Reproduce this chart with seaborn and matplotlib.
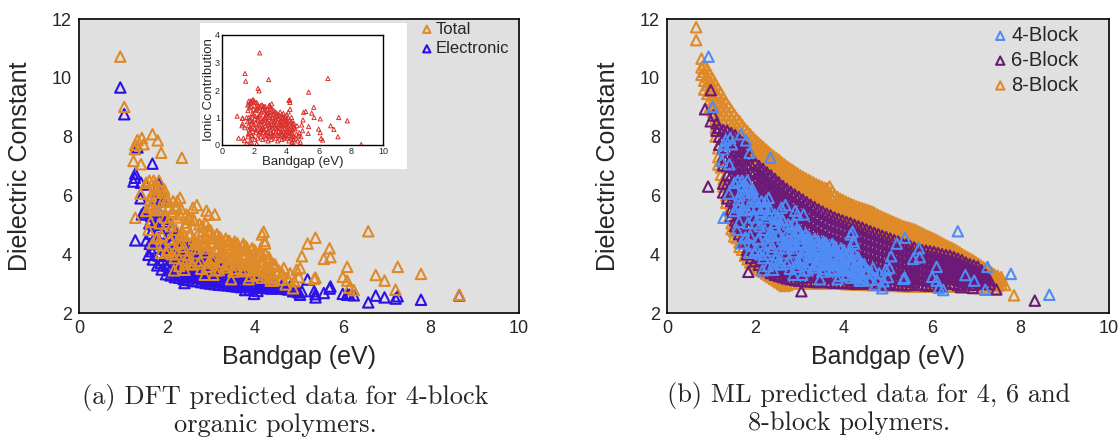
import matplotlib
matplotlib.use("Agg")
import matplotlib.pyplot as plt
import pandas as pd
import seaborn as sns

# ---------------------------------------------------------------------------
# (a) DFT data for 4-block polymers: bandgap, electronic and ionic parts of
#     the dielectric constant (total = electronic + ionic)
# ---------------------------------------------------------------------------
gap_dft = [
    0.94, 1.03, 1.28, 1.33, 1.43, 1.47, 1.27, 1.24, 1.41, 1.53, 1.28, 1.53, 1.40,
    1.67, 1.79, 1.87, 2.34, 2.30, 2.24, 2.90, 2.59, 2.68, 2.95, 3.09, 2.89, 2.99,
    6.58, 5.38, 4.20, 7.25, 7.78, 8.65, 6.10, 5.70, 5.57, 5.07, 5.20, 6.75,
    6.95, 7.20, 6.15, 6.10, 6.25, 6.00, 5.38, 5.35, 5.03, 4.95, 5.00, 4.66,
    4.46, 4.76, 4.87, 2.40, 4.16, 5.72, 4.55, 4.62,
    4.70, 4.80, 4.90, 4.58,
    1.58, 1.61, 1.63, 1.60, 1.64, 1.62, 1.66,
    1.68, 1.71, 1.73, 1.70, 1.74, 1.72, 1.76,
    1.78, 1.81, 1.83, 1.80, 1.84, 1.82, 1.86,
    1.88, 1.91, 1.93, 1.90, 1.94, 1.92, 1.96,
    1.98, 2.01, 2.03, 2.00, 2.04, 2.02, 2.06,
    2.08, 2.11, 2.13, 2.10, 2.14, 2.12, 2.16,
    2.18, 2.21, 2.23, 2.20, 2.24, 2.22, 2.26,
    2.28, 2.31, 2.33, 2.30, 2.34, 2.32, 2.36,
    2.38, 2.41, 2.43, 2.40, 2.44, 2.42, 2.46,
    2.48, 2.51, 2.53, 2.50, 2.54, 2.52, 2.56,
    2.58, 2.61, 2.63, 2.60, 2.64, 2.62, 2.66,
    2.68, 2.71, 2.73, 2.70, 2.74, 2.72, 2.76,
    2.78, 2.81, 2.83, 2.80, 2.84, 2.82, 2.86,
    2.88, 2.91, 2.93, 2.90, 2.94, 2.92, 2.96,
    2.98, 3.01, 3.03, 3.00, 3.04, 3.02, 3.06,
    3.08, 3.11, 3.13, 3.10, 3.14, 3.12, 3.16,
    3.18, 3.21, 3.23, 3.20, 3.24, 3.22, 3.26,
    3.28, 3.31, 3.33, 3.30, 3.34, 3.32, 3.36,
    3.38, 3.41, 3.43, 3.40, 3.44, 3.42, 3.46,
    3.48, 3.51, 3.53, 3.50, 3.54, 3.52, 3.56,
    3.58, 3.61, 3.63, 3.60, 3.64, 3.62, 3.66,
    3.68, 3.71, 3.73, 3.70, 3.74, 3.72, 3.76,
    3.78, 3.81, 3.83, 3.80, 3.84, 3.82, 3.86,
    3.88, 3.91, 3.93, 3.90, 3.94, 3.92, 3.96,
    3.98, 4.01, 4.03, 4.00, 4.04, 4.02, 4.06,
    4.08, 4.11, 4.13, 4.10, 4.14, 4.12, 4.16,
    4.18, 4.21, 4.23, 4.20, 4.24, 4.22, 4.26,
    4.28, 4.31, 4.33, 4.30, 4.34, 4.32, 4.36,
    4.38, 4.41, 4.43, 4.40, 4.44, 4.42, 4.46,
]
eps_electronic = [
    9.67, 8.76, 6.74, 7.63, 5.35, 5.42, 6.60, 6.47, 6.43, 6.37, 4.47, 4.47, 5.90,
    7.08, 6.27, 5.85, 3.93, 3.95, 3.75, 3.10, 4.20, 4.27, 3.90, 3.85, 3.85, 3.71,
    2.36, 2.64, 3.12, 2.57, 2.45, 2.60, 2.62, 2.83, 2.68, 2.74, 3.14, 2.59,
    2.53, 2.49, 2.62, 2.65, 2.60, 2.65, 2.53, 2.74, 2.62, 2.74, 2.70, 2.83,
    2.85, 2.80, 2.74, 3.02, 3.05, 2.90, 2.84, 2.95,
    2.82, 2.90, 2.78, 2.88,
    3.98, 4.35, 4.70, 5.05, 5.30, 5.55, 4.10,
    3.82, 4.20, 4.60, 5.00, 5.45, 5.90, 4.40,
    3.62, 3.95, 4.45, 4.90, 5.40, 6.40, 3.70,
    3.48, 3.80, 4.25, 4.70, 5.10, 5.80, 3.95,
    3.32, 3.60, 3.95, 4.30, 4.65, 5.20, 3.45,
    3.28, 3.55, 3.85, 4.15, 4.50, 4.90, 3.40,
    3.22, 3.48, 3.75, 4.05, 4.35, 4.70, 3.30,
    3.20, 3.42, 3.70, 3.95, 4.25, 4.50, 3.28,
    3.15, 3.38, 3.62, 3.88, 4.15, 4.40, 3.25,
    3.12, 3.35, 3.58, 3.82, 4.05, 4.30, 3.22,
    3.10, 3.32, 3.55, 3.78, 4.00, 4.20, 3.20,
    3.08, 3.28, 3.50, 3.72, 3.92, 4.10, 3.18,
    3.05, 3.25, 3.45, 3.65, 3.85, 4.00, 3.15,
    3.02, 3.22, 3.42, 3.60, 3.78, 3.90, 3.12,
    3.00, 3.18, 3.38, 3.55, 3.72, 3.85, 3.10,
    2.98, 3.15, 3.35, 3.52, 3.68, 3.80, 3.06,
    2.96, 3.12, 3.30, 3.48, 3.62, 3.70, 3.04,
    2.95, 3.10, 3.28, 3.45, 3.58, 3.65, 3.02,
    2.94, 3.08, 3.25, 3.40, 3.52, 3.60, 3.00,
    2.92, 3.06, 3.22, 3.36, 3.48, 3.55, 2.98,
    2.90, 3.04, 3.20, 3.32, 3.44, 3.50, 2.96,
    2.88, 3.02, 3.18, 3.30, 3.40, 3.45, 2.94,
    2.78, 2.98, 3.15, 3.26, 3.36, 3.40, 2.90,
    2.80, 2.96, 3.12, 3.22, 3.30, 3.35, 2.88,
    2.65, 2.92, 3.08, 3.18, 3.26, 3.30, 2.75,
    2.86, 2.98, 3.10, 3.18, 3.25, 2.92, 3.05,
    2.85, 2.96, 3.06, 3.14, 3.20, 2.90, 3.02,
    2.85, 2.95, 3.05, 3.12, 3.15, 2.90, 3.00,
    2.83, 2.92, 3.02, 3.10, 2.88, 3.05, 2.95,
]
eps_ionic = [
    1.05, 0.25, 0.98, 0.25, 2.60, 2.32, 0.97, 0.70, 0.63, 0.06, 0.77, 1.00, 0.16,
    1.00, 1.60, 1.60, 3.35, 1.97, 2.06, 2.38, 1.38, 1.40, 1.45, 1.50, 1.18, 1.10,
    2.42, 1.92, 1.64, 1.00, 0.88, 0.02, 0.95, 1.37, 1.16, 1.19, 1.22, 0.70,
    0.57, 0.30, 0.24, 0.45, 0.18, 0.58, 0.67, 0.42, 0.91, 0.73, 0.52, 0.70,
    0.80, 0.34, 0.10, 0.45, 1.62, 1.00, 0.60, 0.40,
    0.15, 0.45, 0.30, 0.25,
    0.85, 1.25, 0.40, 1.45, 0.70, 0.30, 1.60,
    0.55, 1.35, 0.90, 1.50, 0.65, 0.45, 0.15,
    0.95, 1.55, 0.60, 1.40, 0.80, 0.10, 0.35,
    1.15, 0.50, 1.65, 0.85, 1.10, 0.30, 1.30,
    0.75, 1.45, 0.20, 1.60, 0.95, 0.60, 1.05,
    1.25, 0.45, 1.55, 0.80, 1.30, 0.55, 0.05,
    0.65, 1.35, 0.25, 1.50, 0.90, 0.95, 1.05,
    0.40, 1.25, 0.70, 1.40, 0.50, 1.05, 0.85,
    1.10, 0.30, 1.45, 0.75, 1.20, 0.55, 0.60,
    0.85, 1.30, 0.20, 1.45, 0.65, 0.90, 0.45,
    0.55, 1.20, 0.80, 1.40, 0.35, 0.95, 1.00,
    0.95, 0.40, 1.25, 0.70, 1.10, 0.25, 0.60,
    0.45, 1.15, 0.85, 1.30, 0.50, 0.80, 0.15,
    1.05, 0.35, 1.40, 0.75, 1.00, 0.30, 0.65,
    0.70, 1.35, 0.45, 1.20, 0.85, 0.55, 0.20,
    0.90, 0.30, 1.30, 0.65, 1.00, 0.40, 1.10,
    0.50, 1.25, 0.80, 1.10, 0.35, 0.85, 0.70,
    1.00, 0.45, 1.20, 0.70, 0.95, 0.25, 0.60,
    0.75, 1.15, 0.40, 1.05, 0.60, 0.85, 0.15,
    0.95, 0.35, 1.10, 0.65, 0.95, 0.50, 0.80,
    0.60, 1.20, 0.45, 1.05, 0.75, 0.30, 0.90,
    0.85, 0.40, 1.10, 0.70, 0.95, 0.20, 0.55,
    0.70, 1.15, 0.50, 1.00, 0.35, 0.80, 0.25,
    0.95, 0.30, 1.05, 0.60, 0.90, 0.45, 0.75,
    0.80, 1.10, 0.40, 0.95, 0.65, 0.25, 0.55,
    0.70, 1.00, 0.35, 0.85, 0.50, 1.20, 0.15,
    0.90, 0.45, 1.30, 0.60, 0.80, 1.55, 0.25,
    0.55, 0.85, 0.30, 0.70, 0.45, 1.00, 0.10,
    0.40, 0.75, 0.20, 0.55, 0.30, 0.05, 0.65,
]
eps_total = [e + i for e, i in zip(eps_electronic, eps_ionic)]

# ---------------------------------------------------------------------------
# (b) ML predictions.  4-block predictions coincide with the DFT totals above;
#     6- and 8-block data are stored column by column (bandgap -> constants).
# ---------------------------------------------------------------------------
block8_gap = [
    0.66, 0.78, 0.84, 0.91, 0.97, 1.04, 1.10, 1.16, 1.22, 1.28, 1.34, 1.40,
    1.46, 1.52, 1.58, 1.64, 1.70, 1.76, 1.82, 1.88, 1.94, 2.00, 2.06, 2.12,
    2.18, 2.24, 2.30, 2.36, 2.42, 2.48, 2.54, 2.60, 2.66, 2.72, 2.78, 2.84,
    2.90, 2.96, 3.02, 3.08, 3.14, 3.20, 3.26, 3.32, 3.38, 3.44, 3.50, 3.56,
    3.62, 3.68, 3.74, 3.80, 3.86, 3.92, 3.98, 4.04, 4.10, 4.16, 4.22, 4.28,
    4.34, 4.40, 4.46, 4.52, 4.58, 4.64, 4.70, 4.76, 4.82, 4.88, 4.94, 5.00,
    5.06, 5.12, 5.18, 5.24, 5.30, 5.36, 5.42, 5.48, 5.54, 5.60, 5.66, 5.72,
    5.78, 5.84, 5.90, 5.96, 6.02, 6.08, 6.14, 6.20, 6.26, 6.32, 6.38, 6.44,
    6.50, 6.56, 6.62, 6.68, 6.74, 6.80, 6.86, 6.92, 6.98, 7.04, 7.10, 7.16,
    7.22, 7.28, 7.34, 7.40, 7.48, 7.56, 7.65, 7.85,
]
block8_eps = [
    [11.72, 11.28], [10.65, 10.35, 10.1], [10.45, 10.2, 9.9, 9.6],
    [10.3, 10.02, 9.75, 9.45], [10.12, 9.85, 9.55, 9.25, 9.0],
    [9.95, 9.7, 9.4, 9.1, 8.85], [9.78, 9.5, 9.2, 8.95, 8.6, 8.3, 8.0],
    [9.62, 9.35, 9.05, 8.75, 7.6, 7.3, 7.05], [9.48, 9.2, 8.9, 8.6, 7.2, 6.95, 6.7],
    [9.3, 9.02, 8.75, 8.45, 6.55, 6.3], [9.15, 8.88, 8.6, 8.3, 6.0, 5.75],
    [9.02, 8.75, 8.48, 8.2, 5.5, 5.25], [8.88, 8.6, 8.35, 8.08, 5.05, 4.85],
    [8.75, 8.5, 8.22, 7.95, 4.78, 4.6], [8.62, 8.38, 8.1, 7.85, 4.55],
    [8.52, 8.25, 7.98, 7.72, 4.4, 4.25], [8.4, 8.15, 7.88, 7.6, 4.15],
    [8.28, 8.02, 7.75, 7.48, 3.95], [8.18, 7.92, 7.65, 7.38, 3.82],
    [8.08, 7.82, 7.55, 7.28, 3.72], [7.98, 7.72, 7.45, 7.18, 3.65],
    [7.88, 7.62, 7.35, 7.08, 3.58], [7.8, 7.55, 7.28, 7.0, 3.5],
    [7.72, 7.46, 7.2, 6.92, 3.45], [7.64, 7.38, 7.12, 6.85, 3.4],
    [7.56, 7.3, 7.04, 6.78, 3.34], [7.48, 7.22, 6.96, 6.7, 3.28],
    [7.4, 7.15, 6.88, 6.62, 3.22], [7.33, 7.08, 6.82, 6.55, 3.16],
    [7.26, 7.0, 6.74, 6.48, 3.1], [7.2, 6.94, 6.68, 6.42, 3.04],
    [7.12, 6.86, 6.6, 6.34, 2.98], [7.05, 6.8, 6.54, 6.28, 2.92],
    [6.98, 6.72, 6.46, 6.2, 2.95], [6.92, 6.66, 6.4, 6.14, 3.0],
    [6.86, 6.6, 6.34, 6.08], [6.8, 6.54, 6.28, 6.02, 3.0],
    [6.74, 6.48, 6.22, 5.96], [6.68, 6.42, 6.16, 5.9, 3.02],
    [6.63, 6.37, 6.1, 5.84], [6.58, 6.32, 6.05, 5.78, 3.0],
    [6.53, 6.27, 6.0, 5.72], [6.48, 6.22, 5.95, 5.66, 3.02],
    [6.43, 6.17, 5.9, 5.6], [6.38, 6.12, 5.85, 5.55, 3.0],
    [6.34, 6.08, 5.8, 5.5], [6.3, 6.04, 5.76, 5.46, 3.02],
    [6.26, 6.0, 5.72, 5.42], [6.24, 5.96, 5.68, 5.38, 3.0],
    [6.3, 6.02, 5.74, 5.46, 5.3], [6.14, 5.88, 5.6, 5.32],
    [6.0, 5.78, 5.52, 5.26, 3.0], [5.94, 5.72, 5.46, 5.22],
    [5.88, 5.66, 5.4, 5.18, 3.0], [5.84, 5.6, 5.36, 5.14],
    [5.79, 5.56, 5.32, 5.1, 2.98], [5.75, 5.52, 5.28, 5.06],
    [5.71, 5.48, 5.24, 5.02, 2.98], [5.67, 5.44, 5.2, 4.98],
    [5.63, 5.4, 5.16, 4.95, 2.96], [5.6, 5.37, 5.13, 4.92],
    [5.57, 5.34, 5.1, 4.88, 2.96], [5.54, 5.31, 5.07, 4.85],
    [5.51, 5.28, 5.04, 4.82, 2.95], [5.48, 5.25, 5.01, 4.79],
    [5.45, 5.22, 4.98, 4.76, 2.95], [5.4, 5.18, 4.95, 4.73],
    [5.35, 5.14, 4.92, 4.7, 2.95], [5.3, 5.1, 4.88, 4.66],
    [5.26, 5.06, 4.84, 4.63, 2.94], [5.22, 5.02, 4.8, 4.6],
    [5.18, 4.98, 4.77, 4.56, 2.93], [5.14, 4.94, 4.73, 4.53],
    [5.1, 4.9, 4.7, 4.5, 2.92], [5.06, 4.86, 4.66, 4.46],
    [5.02, 4.82, 4.62, 4.43, 2.92], [4.98, 4.79, 4.59, 4.4],
    [4.95, 4.76, 4.56, 4.37, 2.91], [4.92, 4.73, 4.53, 4.34],
    [4.9, 4.7, 4.5, 4.31, 2.9], [4.87, 4.67, 4.47, 4.28],
    [4.84, 4.64, 4.44, 4.25, 2.9], [4.8, 4.6, 4.41, 4.22],
    [4.75, 4.56, 4.37, 4.19, 2.9], [4.71, 4.52, 4.34, 4.16],
    [4.66, 4.48, 4.3, 4.13, 2.9], [4.62, 4.44, 4.27, 4.1],
    [4.58, 4.4, 4.23, 4.07, 2.9], [4.54, 4.36, 4.2, 4.04],
    [4.5, 4.33, 4.16, 4.01, 2.9], [4.45, 4.29, 4.13, 3.98],
    [4.4, 4.25, 4.09, 3.95, 2.9], [4.35, 4.2, 4.05, 3.92],
    [4.3, 4.16, 4.01, 3.89, 2.9], [4.26, 4.12, 3.98, 3.86],
    [4.22, 4.08, 3.94, 3.83, 2.9], [4.17, 4.03, 3.9, 3.8],
    [4.12, 3.99, 3.86, 3.76, 2.9], [4.06, 3.94, 3.82, 3.72],
    [4.0, 3.89, 3.78, 3.68, 2.88], [3.95, 3.84, 3.73, 3.64],
    [3.9, 3.79, 3.68, 3.59, 2.88], [3.85, 3.74, 3.63, 3.54],
    [3.8, 3.69, 3.58, 3.49, 2.86], [3.74, 3.63, 3.52, 3.43],
    [3.68, 3.57, 3.46, 3.37, 2.85], [3.62, 3.51, 3.4, 3.31],
    [3.56, 3.45, 3.34, 3.25, 2.84], [3.5, 3.39, 3.28, 3.19],
    [3.44, 3.33, 3.22, 3.13, 2.82], [3.38, 3.27, 3.16, 3.07],
    [3.32, 3.21, 3.1, 3.0, 2.82], [3.27, 3.15, 3.03, 2.92],
    [3.22, 3.1, 2.98], [2.95], [2.6],
]

block6_gap = [
    0.86, 0.93, 0.99, 1.05, 1.12, 1.18, 1.27, 1.36, 1.45, 1.54, 1.63, 1.72,
    1.81, 1.84, 1.90, 1.99, 2.08, 2.17, 2.26, 2.35, 2.44, 2.53, 2.62, 2.71,
    2.80, 2.89, 2.98, 3.04, 3.07, 3.16, 3.25, 3.34, 3.43, 3.52, 3.61, 3.70,
    3.79, 3.88, 3.97, 4.06, 4.15, 4.24, 4.33, 4.42, 4.51, 4.60, 4.69, 4.78,
    4.87, 4.96, 5.05, 5.14, 5.23, 5.32, 5.41, 5.50, 5.59, 5.68, 5.77, 5.86,
    5.95, 6.04, 6.13, 6.22, 6.31, 6.40, 6.49, 6.58, 6.65, 6.67, 6.76, 6.85,
    6.92, 6.94, 7.03, 7.12, 7.21, 7.30, 7.45, 8.32,
]
block6_eps = [
    [8.93], [6.3], [9.58, 8.52], [8.72], [8.45, 8.2], [8.3, 8.0, 7.72],
    [8.22, 7.92, 7.62, 7.32, 7.02, 6.4, 6.1],
    [8.2, 7.9, 7.6, 7.3, 7.0, 6.7, 6.4, 6.1, 5.9],
    [8.12, 7.84, 7.55, 7.26, 6.97, 6.68, 6.39, 6.1, 5.81, 5.52, 5.3],
    [8.05, 7.76, 7.47, 7.18, 6.89, 6.6, 6.31, 6.02, 5.73, 5.44, 5.15, 4.95],
    [7.92, 7.63, 7.34, 7.05, 6.76, 6.47, 6.18, 5.89, 5.6, 5.31, 5.02, 4.68],
    [7.8, 7.51, 7.22, 6.93, 6.64, 6.35, 6.06, 5.77, 5.48, 5.19, 4.9, 4.62, 4.4],
    [7.62, 7.33, 7.04, 6.75, 6.46, 6.17, 5.88, 5.59, 5.3, 5.01, 4.72, 4.43, 4.15, 4.0],
    [3.4],
    [7.35, 7.06, 6.77, 6.48, 6.19, 5.9, 5.61, 5.32, 5.03, 4.74, 4.45, 4.16, 3.87],
    [7.12, 6.84, 6.56, 6.28, 6.0, 5.72, 5.44, 5.16, 4.88, 4.6, 4.32, 4.04, 3.76],
    [7.0, 6.72, 6.44, 6.16, 5.88, 5.6, 5.32, 5.04, 4.76, 4.48, 4.2, 3.92, 3.64],
    [6.9, 6.62, 6.34, 6.06, 5.78, 5.5, 5.22, 4.94, 4.66, 4.38, 4.1, 3.82, 3.54],
    [6.78, 6.5, 6.22, 5.94, 5.66, 5.38, 5.1, 4.82, 4.54, 4.26, 3.98, 3.7, 3.44],
    [6.68, 6.4, 6.12, 5.84, 5.56, 5.28, 5.0, 4.72, 4.44, 4.16, 3.88, 3.6, 3.36],
    [6.56, 6.28, 6.0, 5.72, 5.44, 5.16, 4.88, 4.6, 4.32, 4.04, 3.76, 3.5, 3.3],
    [6.44, 6.16, 5.88, 5.6, 5.32, 5.04, 4.76, 4.48, 4.2, 3.92, 3.64, 3.4, 3.26],
    [6.32, 6.05, 5.78, 5.51, 5.24, 4.97, 4.7, 4.43, 4.16, 3.89, 3.62, 3.4, 3.22],
    [6.22, 5.95, 5.68, 5.41, 5.14, 4.87, 4.6, 4.33, 4.06, 3.79, 3.52, 3.3, 3.18],
    [6.12, 5.85, 5.58, 5.31, 5.04, 4.77, 4.5, 4.23, 3.96, 3.69, 3.42, 3.15],
    [6.03, 5.76, 5.49, 5.22, 4.95, 4.68, 4.41, 4.14, 3.87, 3.6, 3.35, 3.12],
    [5.95, 5.68, 5.41, 5.14, 4.87, 4.6, 4.33, 4.06, 3.79, 3.52, 3.3, 3.1],
    [2.74],
    [5.86, 5.59, 5.32, 5.05, 4.78, 4.51, 4.24, 3.97, 3.7, 3.43, 3.2],
    [5.77, 5.5, 5.23, 4.96, 4.69, 4.42, 4.15, 3.88, 3.61, 3.34, 3.08],
    [5.68, 5.42, 5.16, 4.9, 4.64, 4.38, 4.12, 3.86, 3.6, 3.34, 3.08],
    [5.6, 5.34, 5.08, 4.82, 4.56, 4.3, 4.04, 3.78, 3.52, 3.28, 3.06],
    [5.52, 5.26, 5.0, 4.74, 4.48, 4.22, 3.96, 3.7, 3.44, 3.2, 3.05],
    [5.45, 5.19, 4.93, 4.67, 4.41, 4.15, 3.89, 3.63, 3.37, 3.15],
    [5.38, 5.12, 4.86, 4.6, 4.34, 4.08, 3.82, 3.56, 3.3, 3.06],
    [5.32, 5.06, 4.8, 4.54, 4.28, 4.02, 3.76, 3.5, 3.26, 3.04],
    [5.25, 5.0, 4.75, 4.5, 4.25, 4.0, 3.75, 3.5, 3.25, 3.03],
    [5.2, 4.95, 4.7, 4.45, 4.2, 3.95, 3.7, 3.45, 3.22, 3.03],
    [5.15, 4.9, 4.65, 4.4, 4.15, 3.9, 3.65, 3.4, 3.2, 3.02],
    [5.1, 4.85, 4.6, 4.35, 4.1, 3.85, 3.6, 3.36, 3.16, 3.02],
    [5.06, 4.81, 4.56, 4.31, 4.06, 3.81, 3.56, 3.32, 3.12, 3.02],
    [5.0, 4.76, 4.52, 4.28, 4.04, 3.8, 3.56, 3.32, 3.1, 3.0],
    [4.95, 4.71, 4.47, 4.23, 3.99, 3.75, 3.51, 3.28, 3.08, 3.0],
    [4.9, 4.66, 4.42, 4.18, 3.94, 3.7, 3.46, 3.24, 3.04],
    [4.84, 4.6, 4.36, 4.12, 3.88, 3.64, 3.4, 3.18, 3.0],
    [4.78, 4.55, 4.32, 4.09, 3.86, 3.63, 3.4, 3.18, 3.0],
    [4.73, 4.5, 4.27, 4.04, 3.81, 3.58, 3.35, 3.14, 2.98],
    [4.68, 4.45, 4.22, 3.99, 3.76, 3.53, 3.3, 3.1, 2.98],
    [4.63, 4.4, 4.17, 3.94, 3.71, 3.48, 3.26, 3.08, 2.98],
    [4.58, 4.36, 4.14, 3.92, 3.7, 3.48, 3.26, 3.06, 2.97],
    [4.53, 4.31, 4.09, 3.87, 3.65, 3.43, 3.21, 3.02],
    [4.48, 4.26, 4.04, 3.82, 3.6, 3.38, 3.16, 2.97],
    [4.43, 4.22, 4.01, 3.8, 3.59, 3.38, 3.17, 2.96],
    [4.38, 4.17, 3.96, 3.75, 3.54, 3.33, 3.12, 2.95],
    [4.33, 4.12, 3.91, 3.7, 3.49, 3.28, 3.08, 2.95],
    [4.28, 4.08, 3.88, 3.68, 3.48, 3.28, 3.08, 2.95],
    [4.23, 4.03, 3.83, 3.63, 3.43, 3.23, 3.05],
    [4.18, 3.98, 3.78, 3.58, 3.38, 3.18, 2.98],
    [4.14, 3.94, 3.74, 3.54, 3.34, 3.14, 2.95],
    [4.12, 3.92, 3.72, 3.52, 3.32, 3.12, 2.94],
    [4.1, 3.9, 3.7, 3.5, 3.3, 3.1, 2.93],
    [4.08, 3.88, 3.68, 3.48, 3.28, 3.08, 2.93],
    [4.04, 3.85, 3.66, 3.47, 3.28, 3.09, 2.92],
    [4.0, 3.81, 3.62, 3.43, 3.24, 3.05, 2.92],
    [3.97, 3.78, 3.59, 3.4, 3.21, 3.02],
    [3.95, 3.76, 3.57, 3.38, 3.19, 3.0],
    [3.9, 3.72, 3.54, 3.36, 3.18, 3.0],
    [3.85, 3.67, 3.49, 3.31, 3.13, 2.95],
    [2.88],
    [3.8, 3.62, 3.44, 3.26, 3.08],
    [3.72, 3.55, 3.38, 3.21, 3.04],
    [3.66, 3.49, 3.32, 3.15, 2.98],
    [2.85],
    [3.62, 3.45, 3.28, 3.11, 2.96],
    [3.58, 3.41, 3.24, 3.07],
    [3.45, 3.3, 3.15, 3.0],
    [3.3, 3.15, 3.0],
    [3.12, 2.98],
    [2.8],
    [2.42],
]

# Colours
ORANGE = "#df8a28"
BLUE = "#2c12e6"
LIGHT_BLUE = "#4f8cf6"
PURPLE = "#6c1a78"
RED = "#d9302c"
PANEL_BG = "#e0e0e0"


def columns_to_frame(gaps, eps_columns):
    rows = [(g, e) for g, col in zip(gaps, eps_columns) for e in col]
    return pd.DataFrame(rows, columns=["bandgap", "eps"])


dft = pd.DataFrame({"bandgap": gap_dft, "electronic": eps_electronic,
                    "ionic": eps_ionic, "total": eps_total})
ml8 = columns_to_frame(block8_gap, block8_eps)
ml6 = columns_to_frame(block6_gap, block6_eps)

sns.set_style("white")
plt.rcParams["font.family"] = ["Liberation Sans", "DejaVu Sans"]
plt.rcParams["axes.linewidth"] = 1.2

fig = plt.figure(figsize=(11.18, 4.43), dpi=100)
W, H = 1118.0, 443.0


def px_axes(left, top, right, bottom):
    return fig.add_axes([left / W, 1 - bottom / H, (right - left) / W, (bottom - top) / H])


ax_a = px_axes(79, 19, 518.6, 313)
ax_b = px_axes(667, 19, 1109, 313)

TRI = dict(marker="^", s=56, linewidth=1.5, facecolor="none", legend=False)


def hollow(ax, data, x, y, color, label, **extra):
    kw = dict(TRI)
    kw.update(extra)
    sns.scatterplot(data=data, x=x, y=y, ax=ax, color=color, edgecolor=color,
                    label=label, **kw)


# Panel (a)
hollow(ax_a, dft, "bandgap", "electronic", BLUE, "Electronic")
hollow(ax_a, dft, "bandgap", "total", ORANGE, "Total")

# Panel (b): 8-block at the back, 4-block in front
hollow(ax_b, ml8, "bandgap", "eps", ORANGE, "8-Block")
hollow(ax_b, ml6, "bandgap", "eps", PURPLE, "6-Block")
hollow(ax_b, dft, "bandgap", "total", LIGHT_BLUE, "4-Block")

for ax in (ax_a, ax_b):
    ax.set_facecolor(PANEL_BG)
    ax.set_xlim(0, 10)
    ax.set_ylim(2, 12)
    ax.set_xticks([0, 2, 4, 6, 8, 10])
    ax.set_yticks([2, 4, 6, 8, 10, 12])
    ax.tick_params(direction="in", length=4, width=1, labelsize=13,
                   top=False, right=False, pad=5)
    for sp in ax.spines.values():
        sp.set_visible(True)
        sp.set_color("black")
        sp.set_linewidth(1.2)
    ax.set_xlabel("Bandgap (eV)", fontsize=18)
    ax.set_ylabel("Dielectric Constant", fontsize=18)
    ax.xaxis.set_label_coords(0.5, -0.15)
    ax.xaxis.label.set_va("center")
    ax.yaxis.set_label_coords(-0.134, 0.5)
    ax.yaxis.label.set_va("center")

# Legends
h, l = ax_a.get_legend_handles_labels()
order = [l.index("Total"), l.index("Electronic")]
ax_a.legend([h[i] for i in order], [l[i] for i in order], loc="upper left",
            bbox_to_anchor=(0.776, 0.991), frameon=False, fontsize=12,
            markerscale=0.7, handlelength=0.8, handletextpad=0.1,
            borderpad=0, borderaxespad=0, labelspacing=0.27)

h, l = ax_b.get_legend_handles_labels()
order = [l.index("4-Block"), l.index("6-Block"), l.index("8-Block")]
ax_b.legend([h[i] for i in order], [l[i] for i in order], loc="upper left",
            bbox_to_anchor=(0.738, 0.976), frameon=False, fontsize=14.5,
            markerscale=0.8, handlelength=0.7, handletextpad=0.2,
            borderpad=0, borderaxespad=0, labelspacing=0.29)

# Inset: ionic contribution of the DFT data
box = px_axes(200, 23, 407, 169)
box.set_facecolor("white")
box.set_xticks([])
box.set_yticks([])
for sp in box.spines.values():
    sp.set_visible(False)

ins = px_axes(222, 35, 383, 145)
ins.set_facecolor("white")
sns.scatterplot(data=dft, x="bandgap", y="ionic", ax=ins, marker="^", s=9,
                linewidth=0.7, facecolor="none", color=RED, edgecolor=RED,
                legend=False)
ins.set_xlim(0, 10)
ins.set_ylim(0, 4)
ins.set_xticks([0, 2, 4, 6, 8, 10])
ins.set_yticks([0, 1, 2, 3, 4])
ins.tick_params(direction="in", length=2, width=0.8, labelsize=6.5, pad=1.5)
for sp in ins.spines.values():
    sp.set_visible(True)
    sp.set_color("black")
    sp.set_linewidth(1.0)
ins.set_xlabel("Bandgap (eV)", fontsize=9.5, labelpad=0)
ins.set_ylabel("Ionic Contribution", fontsize=9.5, labelpad=0)

# Sub-captions
CAP = dict(fontfamily="cmr10", fontsize=19, ha="center", va="baseline")
fig.text(285 / W, 1 - 404 / H, "(a) DFT predicted data for 4-block", **CAP)
fig.text(275 / W, 1 - 432 / H, "organic polymers.", **CAP)
fig.text(869 / W, 1 - 402 / H, "(b) ML predicted data for 4, 6 and", **CAP)
fig.text(849 / W, 1 - 430 / H, "8-block polymers.", **CAP)

fig.savefig("out.png", dpi=100, facecolor="white")
